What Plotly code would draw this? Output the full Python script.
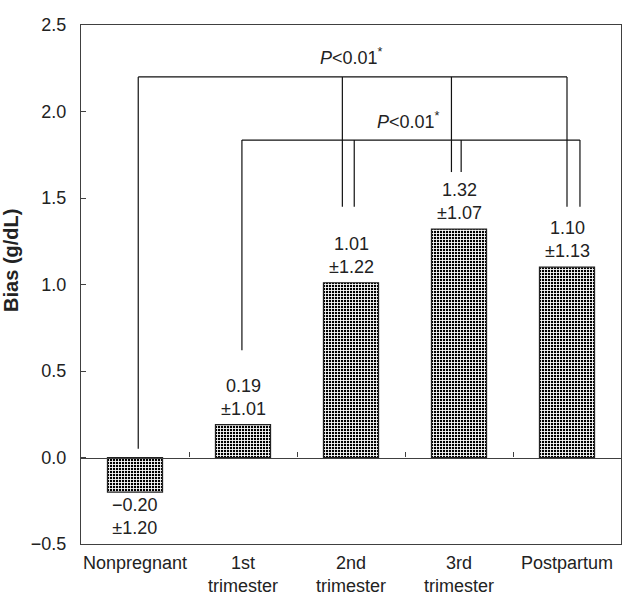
import plotly.graph_objects as go

# ---- data ----
categories = ["Nonpregnant", "1st<br>trimester", "2nd<br>trimester", "3rd<br>trimester", "Postpartum"]
bias_mean = [-0.20, 0.19, 1.01, 1.32, 1.10]
bias_sd = [1.20, 1.01, 1.22, 1.07, 1.13]
y_ticks = [-0.5, 0.0, 0.5, 1.0, 1.5, 2.0, 2.5]

# significance brackets (category position, y)
upper_bracket_y = 2.20
upper_bracket_x = [0.03, 4.0]
upper_drops_x = [0.03, 1.92, 2.93, 4.0]
upper_drops_end = [0.05, 1.45, 1.65, 1.45]
upper_label = (2.0, 2.32)

lower_bracket_y = 1.835
lower_bracket_x = [0.99, 4.12]
lower_drops_x = [0.99, 2.03, 3.02, 4.12]
lower_drops_end = [0.62, 1.45, 1.65, 1.45]
lower_label = (2.53, 1.95)

FONT = "Liberation Sans, Arial, sans-serif"
TXT = "#222222"
AX = "#404040"
FS = 18

xs = list(range(len(categories)))

fig = go.Figure()
fig.add_trace(go.Bar(
    x=xs, y=bias_mean, width=0.51,
    marker=dict(color="black", line=dict(color="#222", width=1.2),
                pattern=dict(shape="+", fgcolor="white", bgcolor="black", size=3,
                             solidity=0.5, fillmode="replace")),
    showlegend=False, hoverinfo="skip",
))

def bracket(y, xr, dx, dend):
    lx, ly = [], []
    lx += [xr[0], xr[1], None]
    ly += [y, y, None]
    for x0, e in zip(dx, dend):
        lx += [x0, x0, None]
        ly += [y, e, None]
    fig.add_trace(go.Scatter(x=lx, y=ly, mode="lines", line=dict(color="#111", width=1.2),
                             showlegend=False, hoverinfo="skip"))

bracket(upper_bracket_y, upper_bracket_x, upper_drops_x, upper_drops_end)
bracket(lower_bracket_y, lower_bracket_x, lower_drops_x, lower_drops_end)

for (lx, ly) in [upper_label, lower_label]:
    fig.add_annotation(x=lx, y=ly, text="<i>P</i><0.01<sup>*</sup>", showarrow=False,
                       font=dict(family=FONT, size=FS, color=TXT))

for x, m, s in zip(xs, bias_mean, bias_sd):
    txt = f"{m:.2f}".replace("-", "\u2212") + "<br>\u00b1" + f"{s:.2f}"
    if m >= 0:
        fig.add_annotation(x=x, y=m, text=txt, showarrow=False, yanchor="bottom", yshift=4,
                           font=dict(family=FONT, size=FS, color=TXT))
    else:
        fig.add_annotation(x=x, y=m, text=txt, showarrow=False, yanchor="top", yshift=-1,
                           font=dict(family=FONT, size=FS, color=TXT))

# zero-line axis with category-boundary ticks
fig.add_trace(go.Scatter(x=[None], y=[None], xaxis="x2", showlegend=False, hoverinfo="skip"))

fig.update_layout(
    width=623, height=595,
    margin=dict(l=81, r=2, t=25, b=51, autoexpand=False),
    paper_bgcolor="white", plot_bgcolor="white",
    font=dict(family=FONT, size=FS, color=TXT),
    xaxis=dict(range=[-0.5, 4.5], tickvals=xs, ticktext=categories, ticks="",
               showline=True, linecolor=AX, linewidth=1.3, mirror=True, showgrid=False,
               zeroline=False, tickfont=dict(size=FS), ticklabelstandoff=2,
               automargin=False),
    xaxis2=dict(range=[-0.5, 4.5], overlaying="x", anchor="free", position=1/6,
                side="bottom", showline=True, linecolor=AX, linewidth=1.3,
                ticks="inside", ticklen=5, tickwidth=1.3, tickcolor=AX,
                tickvals=[0.5, 1.5, 2.5, 3.5], showticklabels=False, showgrid=False,
                zeroline=False, automargin=False),
    yaxis=dict(range=[-0.5, 2.5], tickvals=y_ticks, tickformat=".1f", ticks="inside",
               ticklen=5, tickwidth=1.3, tickcolor=AX, showline=True, linecolor=AX,
               linewidth=1.3, mirror=True, showgrid=False, zeroline=False,
               ticklabelstandoff=10, tickfont=dict(size=FS), automargin=False),
)
fig.add_annotation(xref="paper", yref="paper", x=-0.13, y=0.547, xanchor="center",
                   yanchor="middle", text="<b>Bias (g/dL)</b>",
                   textangle=-90, showarrow=False, font=dict(family=FONT, size=20, color=TXT))

fig.write_html("out.html", config={"displayModeBar": False},
               post_script="document.body.style.margin='0';")
